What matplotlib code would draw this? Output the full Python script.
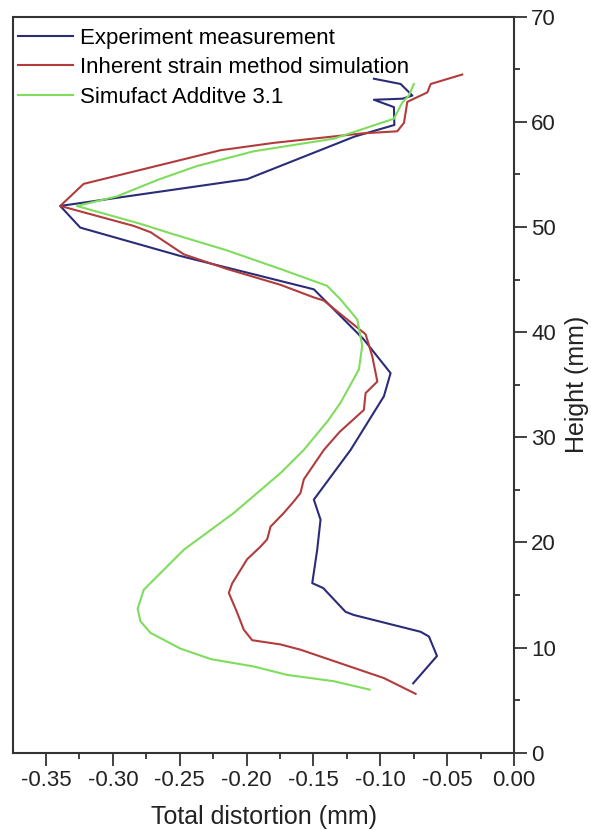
import matplotlib.pyplot as plt
from matplotlib.ticker import MultipleLocator

plt.rcParams['font.family'] = ['Liberation Sans', 'DejaVu Sans']

# Experiment measurement (distortion mm, height mm), bottom -> top
exp_x = [-0.0754, -0.0576, -0.0636, -0.0698, -0.1198, -0.126, -0.1427, -0.1509,
         -0.1472, -0.1447, -0.1497, -0.1222, -0.0973, -0.0923, -0.1123, -0.1497,
         -0.1946, -0.2495, -0.3244, -0.3394, -0.1996, -0.1192, -0.0895, -0.0898,
         -0.1048, -0.0835, -0.076, -0.0848, -0.1048]
exp_y = [6.6, 9.2, 11.05, 11.5, 13.1, 13.4, 15.66, 16.13,
         19.3, 22.16, 24.07, 28.8, 33.9, 36.1, 39.3, 44.07,
         45.5, 47.24, 49.94, 52.0, 54.55, 58.6, 59.7, 61.4,
         62.1, 62.2, 62.5, 63.6, 64.1]

# Inherent strain method simulation
ism_x = [-0.0736, -0.0973, -0.1297, -0.1597, -0.1747, -0.1958, -0.2021, -0.207,
         -0.2133, -0.2108, -0.1996, -0.1896, -0.1846, -0.1821, -0.1722, -0.1647,
         -0.1597, -0.1572, -0.1422, -0.1305, -0.1123, -0.111, -0.1022, -0.106,
         -0.1098, -0.111, -0.1247, -0.1422, -0.1497, -0.1747, -0.2145, -0.247,
         -0.2718, -0.2844, -0.3394, -0.3219, -0.2195, -0.1796, -0.1136, -0.0873,
         -0.0823, -0.0798, -0.0648, -0.0623, -0.0387]
ism_y = [5.6, 7.1, 8.5, 9.8, 10.3, 10.7, 11.7, 13.3,
         15.2, 16.1, 18.4, 19.6, 20.3, 21.5, 22.8, 23.9,
         24.7, 26.0, 28.8, 30.5, 32.6, 34.2, 35.3, 37.7,
         39.3, 39.8, 41.2, 43.0, 43.3, 44.5, 46.0, 47.4,
         49.5, 50.1, 52.0, 54.1, 57.3, 58.0, 58.9, 59.1,
         59.9, 61.9, 62.8, 63.6, 64.5]

# Simufact Additive 3.1
sim_x = [-0.1079, -0.1347, -0.1696, -0.1946, -0.2266, -0.2495, -0.2719, -0.2794,
         -0.2815, -0.2769, -0.247, -0.2096, -0.1746, -0.1572, -0.139, -0.1297,
         -0.116, -0.1135, -0.1172, -0.1297, -0.1397, -0.1746, -0.2153, -0.2545,
         -0.2794, -0.327, -0.2972, -0.2661, -0.237, -0.1946, -0.1347, -0.0898,
         -0.0835, -0.0786, -0.0749]
sim_y = [6.0, 6.8, 7.4, 8.2, 8.9, 9.9, 11.4, 12.5,
         13.7, 15.5, 19.3, 22.8, 26.6, 28.8, 31.6, 33.3,
         36.45, 38.7, 41.2, 43.1, 44.4, 46.0, 47.8, 49.3,
         50.3, 52.0, 52.9, 54.5, 55.8, 57.2, 58.4, 60.3,
         61.85, 62.5, 63.6]

fig = plt.figure(figsize=(5.91, 8.30), dpi=100)
ax = fig.add_axes([0.0225, 0.0931, 0.8472, 0.8868])

ax.plot(exp_x, exp_y, color='#2a2c78', lw=1.5, label='Experiment measurement')
ax.plot(ism_x, ism_y, color='#b23c3c', lw=1.5, label='Inherent strain method simulation')
ax.plot(sim_x, sim_y, color='#7fdc5c', lw=1.5, label='Simufact Additve 3.1')

ax.set_xlim(-0.3745, 0.0)
ax.set_ylim(0, 70)
ax.xaxis.set_major_locator(MultipleLocator(0.05))
ax.xaxis.set_minor_locator(MultipleLocator(0.025))
ax.yaxis.set_major_locator(MultipleLocator(10))
ax.yaxis.set_minor_locator(MultipleLocator(5))
ax.xaxis.set_major_formatter(plt.FuncFormatter(lambda v, p: '%.2f' % v if abs(v) > 1e-9 else '0.00'))

ax.yaxis.tick_right()
ax.yaxis.set_label_position('right')
ax.tick_params(axis='both', which='major', length=9, width=1.3, color='#333333',
               labelsize=16, labelcolor='#222222', direction='out')
ax.tick_params(axis='both', which='minor', length=4, width=1.3, color='#333333', direction='out')
for s in ax.spines.values():
    s.set_linewidth(1.5)
    s.set_color('#333333')

ax.set_xlabel('Total distortion (mm)', fontsize=18, color='#222222', labelpad=10)
ax.set_ylabel('Height (mm)', fontsize=18, color='#222222', labelpad=6)

ax.legend(loc='upper left', bbox_to_anchor=(-0.003, 0.994), frameon=False, fontsize=16,
          handlelength=2.45, handletextpad=0.3, labelspacing=0.38, borderaxespad=0.0,
          borderpad=0.3)

fig.savefig('out.png', dpi=100)
